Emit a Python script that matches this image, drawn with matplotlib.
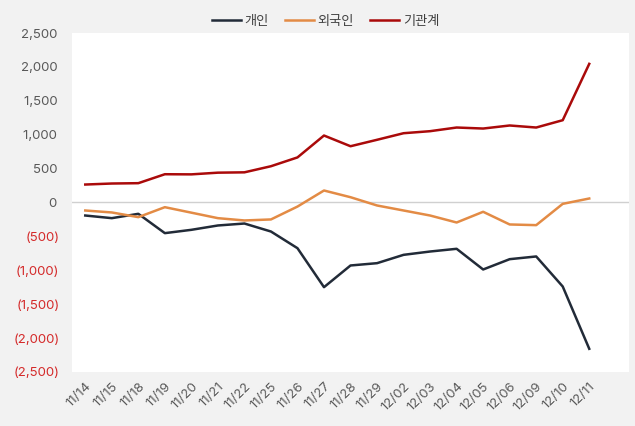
import matplotlib.pyplot as plt
import numpy as np

plt.rcParams['font.family'] = ['Inter', 'Noto Sans CJK KR', 'DejaVu Sans']

dates = ["11/14", "11/15", "11/18", "11/19", "11/20", "11/21", "11/22", "11/25", "11/26", "11/27",
         "11/28", "11/29", "12/02", "12/03", "12/04", "12/05", "12/06", "12/09", "12/10", "12/11"]
individual = [-192, -231, -167, -452, -403, -339, -310, -428, -674, -1249,
              -929, -895, -772, -723, -683, -988, -836, -796, -1239, -2158]
foreign = [-118, -147, -216, -69, -150, -231, -265, -250, -60, 177,
           78, -44, -118, -192, -295, -137, -324, -334, -20, 59]
institution = [265, 280, 285, 417, 415, 440, 445, 535, 665, 988,
               830, 925, 1022, 1052, 1106, 1091, 1136, 1106, 1214, 2045]

fig = plt.figure(figsize=(6.35, 4.26), dpi=100, facecolor="#F2F2F2")
ax = fig.add_axes([0.1134, 0.1268, 0.8772, 0.7957])
ax.set_facecolor("white")

x = np.arange(len(dates))
ax.plot(x, individual, color="#222B38", lw=1.8, label="개인")
ax.plot(x, foreign, color="#E38B45", lw=1.8, label="외국인")
ax.plot(x, institution, color="#AA0A0A", lw=1.8, label="기관계")
ax.axhline(0, color="#D0D0D0", lw=1, zorder=0)

ax.set_xlim(-0.5, 20.5)
ax.set_ylim(-2500, 2500)
yt = np.arange(-2500, 2501, 500)
ax.set_yticks(yt)
ax.set_yticklabels([f"{v:,}\u2009" if v >= 0 else f"({-v:,})" for v in yt])
for lbl, v in zip(ax.get_yticklabels(), yt):
    lbl.set_color("#595959" if v >= 0 else "#D42A2A")
ax.set_xticks(x)
ax.set_xticklabels(dates, rotation=45, ha="right", rotation_mode="anchor", color="#595959")
ax.tick_params(axis="both", length=0, labelsize=9.5)
ax.tick_params(axis="y", pad=9)
ax.tick_params(axis="x", pad=6)
for s in ax.spines.values():
    s.set_visible(False)

ax.legend(loc="lower center", bbox_to_anchor=(0.455, 1.0), ncol=3, frameon=False,
          fontsize=9.5, handlelength=2.2, columnspacing=1.2, handletextpad=0.3,
          labelcolor="#404040", borderaxespad=0.0)

fig.savefig("out.png", dpi=100, facecolor=fig.get_facecolor())
